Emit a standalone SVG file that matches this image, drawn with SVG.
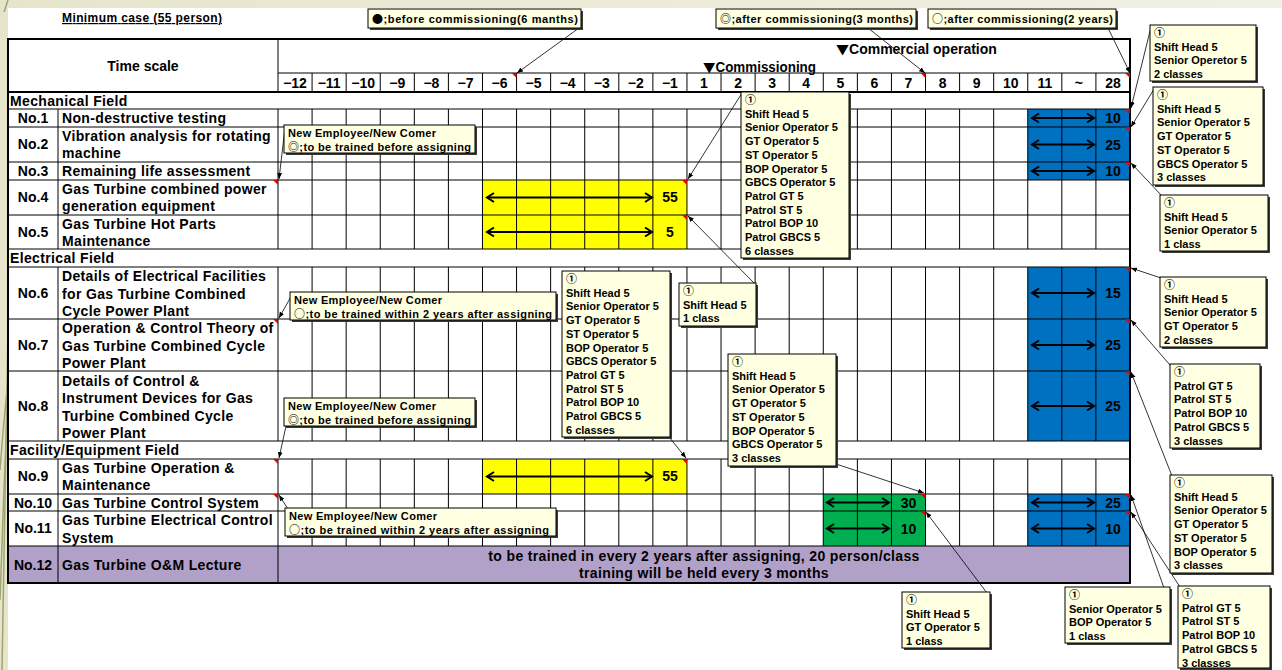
<svg xmlns="http://www.w3.org/2000/svg" xmlns:xlink="http://www.w3.org/1999/xlink" width="1282" height="670" viewBox="0 0 1282 670">
<style>
.t{font-family:"Liberation Sans","Noto Sans CJK JP",sans-serif;font-weight:bold;font-size:14px;fill:#000}
.ls{letter-spacing:0.35px}
.m{text-anchor:middle}
.c{font-size:11px}
.s{font-family:"Noto Sans CJK JP",sans-serif;font-weight:bold}
.g{stroke:#000;stroke-width:1;fill:none}
.cb{fill:#ffffe1;stroke:#000;stroke-width:1}
.sh{fill:#3a3a3a}
.ld{stroke:#000;stroke-width:0.8;fill:none;marker-end:url(#ah)}
.ar{stroke:#000;stroke-width:2;fill:none;marker-start:url(#ch);marker-end:url(#ch)}
.rd{fill:#e00000}
</style>
<defs>
<linearGradient id="bg" x1="0" y1="0" x2="1" y2="0"><stop offset="0" stop-color="#e6e5cc"/><stop offset="1" stop-color="#f1f1e4"/></linearGradient>
<marker id="ah" viewBox="0 0 10 10" refX="10" refY="5" markerWidth="6" markerHeight="6" orient="auto" markerUnits="userSpaceOnUse"><path d="M0,1 L10,5 L0,9 z" fill="#000"/></marker>
<marker id="ch" viewBox="-10 -6 12 12" refX="0" refY="0" markerWidth="12" markerHeight="12" orient="auto-start-reverse" markerUnits="userSpaceOnUse"><path d="M-7,-4.5 L0,0 L-7,4.5" fill="none" stroke="#000" stroke-width="2"/></marker>
<path id="vs" d="M0,73V92M0,109V249M0,267V441M0,459V546" class="g"/>
<path id="rm" d="M-5,0H0V5z" class="rd"/>
</defs>
<rect width="1282" height="670" fill="url(#bg)"/>
<rect x="8" y="8" width="1274" height="662" fill="#fff"/>
<g id="grass" fill="none" stroke="#7d8a4a" stroke-width="1.5" opacity="0.7">
<path d="M2,670 C4,560 6,440 8,330"/>
<path d="M0,600 C3,520 5,450 8,400"/>
<path d="M0,470 C3,430 6,400 8,380"/>
<path d="M4,12 L8,0"/>
</g>

<g id="title">
<text class="t" x="62" y="22" style="font-size:12px" text-decoration="underline" textLength="160" lengthAdjust="spacing">Minimum case (55 person)</text>
</g>

<g id="table">
<rect x="8" y="546" width="1122" height="37" fill="#b1a0c7"/>
<rect x="1027.76" y="109" width="102.24" height="71" fill="#0070c0"/>
<rect x="1027.76" y="267" width="102.24" height="174" fill="#0070c0"/>
<rect x="1027.76" y="494" width="102.24" height="52" fill="#0070c0"/>
<rect x="482.48" y="180" width="204.48" height="69" fill="#ffff00"/>
<rect x="482.48" y="459" width="204.48" height="35" fill="#ffff00"/>
<rect x="823.28" y="494" width="102.24" height="52" fill="#00b050"/>
<use xlink:href="#vs" x="312.08"/><use xlink:href="#vs" x="346.16"/><use xlink:href="#vs" x="380.24"/><use xlink:href="#vs" x="414.32"/><use xlink:href="#vs" x="448.4"/><use xlink:href="#vs" x="482.48"/><use xlink:href="#vs" x="516.56"/><use xlink:href="#vs" x="550.64"/><use xlink:href="#vs" x="584.72"/><use xlink:href="#vs" x="618.8"/><use xlink:href="#vs" x="652.88"/><use xlink:href="#vs" x="686.96"/><use xlink:href="#vs" x="721.04"/><use xlink:href="#vs" x="755.12"/><use xlink:href="#vs" x="789.2"/><use xlink:href="#vs" x="823.28"/><use xlink:href="#vs" x="857.36"/><use xlink:href="#vs" x="891.44"/><use xlink:href="#vs" x="925.52"/><use xlink:href="#vs" x="959.6"/><use xlink:href="#vs" x="993.68"/><use xlink:href="#vs" x="1027.76"/><use xlink:href="#vs" x="1061.84"/><use xlink:href="#vs" x="1095.92"/>
<path class="g" d="M278,39V92M278,109V249M278,267V441M278,459V583M58,109V249M58,267V441M58,459V583"/>
<path class="g" d="M278,73H1130M8,109H1130M8,127H1130M8,162H1130M8,180H1130M8,215H1130M8,249H1130M8,267H1130M8,319H1130M8,371H1130M8,441H1130M8,459H1130M8,494H1130M8,511H1130M8,546H1130"/>
<path d="M8,92H1130" stroke="#000" stroke-width="2"/>
<rect x="8" y="39" width="1122" height="544" fill="none" stroke="#000" stroke-width="2"/>

<text class="t m" x="143" y="71">Time scale</text>
<text class="t" x="836" y="54"><tspan class="s" style="font-size:13px">▼</tspan>Commercial operation</text>
<text class="t" x="703" y="72" textLength="113" lengthAdjust="spacingAndGlyphs"><tspan class="s" style="font-size:13px">▼</tspan>Commissioning</text>
<g class="t m">
<text x="295.04" y="88">−12</text><text x="329.12" y="88">−11</text><text x="363.2" y="88">−10</text><text x="397.28" y="88">−9</text><text x="431.36" y="88">−8</text><text x="465.44" y="88">−7</text><text x="499.52" y="88">−6</text><text x="533.6" y="88">−5</text><text x="567.68" y="88">−4</text><text x="601.76" y="88">−3</text><text x="635.84" y="88">−2</text><text x="669.92" y="88">−1</text><text x="704" y="88">1</text><text x="738.08" y="88">2</text><text x="772.16" y="88">3</text><text x="806.24" y="88">4</text><text x="840.32" y="88">5</text><text x="874.4" y="88">6</text><text x="908.48" y="88">7</text><text x="942.56" y="88">8</text><text x="976.64" y="88">9</text><text x="1010.72" y="88">10</text><text x="1044.8" y="88">11</text><text x="1078.88" y="88">~</text><text x="1112.96" y="88">28</text>
</g>

<g class="t ls">
<text x="10" y="106">Mechanical Field</text>
<text x="10" y="263">Electrical Field</text>
<text x="10" y="455">Facility/Equipment Field</text>
</g>

<g class="t m">
<text x="33" y="123">No.1</text><text x="33" y="149">No.2</text><text x="33" y="176">No.3</text><text x="33" y="202">No.4</text><text x="33" y="237">No.5</text><text x="33" y="298">No.6</text><text x="33" y="350">No.7</text><text x="33" y="411">No.8</text><text x="33" y="481">No.9</text><text x="33" y="508">No.10</text><text x="33" y="533">No.11</text><text x="33" y="570">No.12</text>
</g>
<g class="t ls">
<text x="62" y="123">Non-destructive testing</text>
<text x="62" y="141">Vibration analysis for rotating</text><text x="62" y="158">machine</text>
<text x="62" y="176">Remaining life assessment</text>
<text x="62" y="194">Gas Turbine combined power</text><text x="62" y="211">generation equipment</text>
<text x="62" y="229">Gas Turbine Hot Parts</text><text x="62" y="246">Maintenance</text>
<text x="62" y="281">Details of Electrical Facilities</text><text x="62" y="299">for Gas Turbine Combined</text><text x="62" y="316">Cycle Power Plant</text>
<text x="62" y="333">Operation &amp; Control Theory of</text><text x="62" y="351">Gas Turbine Combined Cycle</text><text x="62" y="368">Power Plant</text>
<text x="62" y="386">Details of Control &amp;</text><text x="62" y="403">Instrument Devices for Gas</text><text x="62" y="421">Turbine Combined Cycle</text><text x="62" y="438">Power Plant</text>
<text x="62" y="473">Gas Turbine Operation &amp;</text><text x="62" y="490">Maintenance</text>
<text x="62" y="508">Gas Turbine Control System</text>
<text x="62" y="525">Gas Turbine Electrical Control</text><text x="62" y="543">System</text>
<text x="62" y="570">Gas Turbine O&amp;M Lecture</text>
<text class="m" x="704" y="561">to be trained in every 2 years after assigning, 20 person/class</text>
<text class="m" x="704" y="578">training will be held every 3 months</text>
</g>

<g id="bars">
<path class="ar" d="M1032,118H1094"/><path class="ar" d="M1032,144.5H1094"/><path class="ar" d="M1032,171H1094"/><path class="ar" d="M1032,293H1094"/><path class="ar" d="M1032,345H1094"/><path class="ar" d="M1032,406H1094"/><path class="ar" d="M1032,502.5H1094"/><path class="ar" d="M1032,528.5H1094"/>
<path class="ar" d="M487,197.5H652"/><path class="ar" d="M487,232H652"/><path class="ar" d="M487,476.5H652"/>
<path class="ar" d="M827,502.5H889"/><path class="ar" d="M827,528.5H889"/>
<g class="t m">
<text x="1113" y="123">10</text><text x="1113" y="150">25</text><text x="1113" y="176">10</text><text x="1113" y="298">15</text><text x="1113" y="350">25</text><text x="1113" y="411">25</text><text x="1113" y="508">25</text><text x="1113" y="534">10</text>
<text x="670" y="202">55</text><text x="670" y="237">5</text><text x="670" y="481">55</text>
<text x="908.5" y="508">30</text><text x="908.5" y="534">10</text>
</g>
</g>

<g id="comment-marks">
<use xlink:href="#rm" x="516.56" y="73"/><use xlink:href="#rm" x="925.52" y="73"/><use xlink:href="#rm" x="1130" y="73"/>
<use xlink:href="#rm" x="278" y="180"/><use xlink:href="#rm" x="278" y="319"/><use xlink:href="#rm" x="278" y="459"/><use xlink:href="#rm" x="278" y="494"/>
<use xlink:href="#rm" x="686.96" y="180"/><use xlink:href="#rm" x="686.96" y="215"/><use xlink:href="#rm" x="686.96" y="459"/>
<use xlink:href="#rm" x="925.52" y="494"/><use xlink:href="#rm" x="925.52" y="511"/>
<use xlink:href="#rm" x="1130" y="109"/><use xlink:href="#rm" x="1130" y="127"/><use xlink:href="#rm" x="1130" y="162"/><use xlink:href="#rm" x="1130" y="267"/><use xlink:href="#rm" x="1130" y="319"/><use xlink:href="#rm" x="1130" y="371"/><use xlink:href="#rm" x="1130" y="494"/><use xlink:href="#rm" x="1130" y="511"/>
</g>
</g>

<g id="connectors">
<path class="ld" d="M579,28L517,73"/>
<path class="ld" d="M868,28L925,73"/>
<path class="ld" d="M1108,28L1130,73"/>
<path class="ld" d="M285,128L279,179"/>
<path class="ld" d="M293,293L279,318"/>
<path class="ld" d="M286,426L279,458"/>
<path class="ld" d="M288,509L279,495"/>
<path class="ld" d="M742,93L688,179"/>
<path class="ld" d="M755,284L688,216"/>
<path class="ld" d="M669,437L686,458"/>
<path class="ld" d="M836,464L924,493"/>
<path class="ld" d="M987,593L926,512"/>
<path class="ld" d="M1164,588L1131,495"/>
<path class="ld" d="M1180,587L1131,512"/>
<path class="ld" d="M1172,476L1131,372"/>
<path class="ld" d="M1170,365L1131,320"/>
<path class="ld" d="M1161,278L1131,268"/>
<path class="ld" d="M1162,196L1131,163"/>
<path class="ld" d="M1154,89L1131,127"/>
<path class="ld" d="M1151,27L1131,108"/>
</g>

<g id="n-before6"><rect class="sh" x="370" y="11" width="213" height="19"/><rect class="cb" x="368" y="9" width="213" height="19"/><text class="t c" x="372" y="23" textLength="206" lengthAdjust="spacing"><tspan class="s">●</tspan>;before commissioning(6 manths)</text></g>
<g id="n-after3"><rect class="sh" x="718" y="11" width="200" height="19"/><rect class="cb" x="716" y="9" width="200" height="19"/><text class="t c" x="720" y="23" textLength="193" lengthAdjust="spacing"><tspan class="s">◎</tspan>;after commissioning(3 months)</text></g>
<g id="n-after2y"><rect class="sh" x="930" y="11" width="188" height="19"/><rect class="cb" x="928" y="9" width="188" height="19"/><text class="t c" x="932" y="23" textLength="181" lengthAdjust="spacing"><tspan class="s">○</tspan>;after commissioning(2 years)</text></g>

<g id="n-new1"><rect class="sh" x="286" y="127" width="191" height="28"/><rect class="cb" x="284" y="125" width="191" height="28"/><text class="t c" x="288" y="137" textLength="148" lengthAdjust="spacing">New Employee/New Comer</text><text class="t c" x="288" y="150.7" textLength="183" lengthAdjust="spacing"><tspan class="s">◎</tspan>;to be trained before assigning</text></g>
<g id="n-new2"><rect class="sh" x="292" y="294" width="266" height="28"/><rect class="cb" x="290" y="292" width="266" height="28"/><text class="t c" x="294" y="304" textLength="148" lengthAdjust="spacing">New Employee/New Comer</text><text class="t c" x="294" y="317.7" textLength="258" lengthAdjust="spacing"><tspan class="s">○</tspan>;to be trained within 2 years after assigning</text></g>
<g id="n-new3"><rect class="sh" x="286" y="400" width="191" height="28"/><rect class="cb" x="284" y="398" width="191" height="28"/><text class="t c" x="288" y="410" textLength="148" lengthAdjust="spacing">New Employee/New Comer</text><text class="t c" x="288" y="423.7" textLength="183" lengthAdjust="spacing"><tspan class="s">◎</tspan>;to be trained before assigning</text></g>
<g id="n-new4"><rect class="sh" x="287" y="510" width="271" height="28"/><rect class="cb" x="285" y="508" width="271" height="28"/><text class="t c" x="289" y="520" textLength="148" lengthAdjust="spacing">New Employee/New Comer</text><text class="t c" x="289" y="533.7" textLength="260" lengthAdjust="spacing"><tspan class="s">○</tspan>;to be trained within 2 years after assigning</text></g>

<g id="n-k"><rect class="sh" x="743" y="94" width="108" height="166"/><rect class="cb" x="741" y="92" width="108" height="166"/><text class="t c" x="745" y="104"><tspan x="745">①</tspan><tspan x="745" dy="13.7">Shift Head 5</tspan><tspan x="745" dy="13.7">Senior Operator 5</tspan><tspan x="745" dy="13.7">GT Operator 5</tspan><tspan x="745" dy="13.7">ST Operator 5</tspan><tspan x="745" dy="13.7">BOP Operator 5</tspan><tspan x="745" dy="13.7">GBCS Operator 5</tspan><tspan x="745" dy="13.7">Patrol GT 5</tspan><tspan x="745" dy="13.7">Patrol ST 5</tspan><tspan x="745" dy="13.7">Patrol BOP 10</tspan><tspan x="745" dy="13.7">Patrol GBCS 5</tspan><tspan x="745" dy="13.7">6 classes</tspan></text></g>
<g id="n-m"><rect class="sh" x="564" y="273" width="108" height="166"/><rect class="cb" x="562" y="271" width="108" height="166"/><text class="t c" x="566" y="283"><tspan x="566">①</tspan><tspan x="566" dy="13.7">Shift Head 5</tspan><tspan x="566" dy="13.7">Senior Operator 5</tspan><tspan x="566" dy="13.7">GT Operator 5</tspan><tspan x="566" dy="13.7">ST Operator 5</tspan><tspan x="566" dy="13.7">BOP Operator 5</tspan><tspan x="566" dy="13.7">GBCS Operator 5</tspan><tspan x="566" dy="13.7">Patrol GT 5</tspan><tspan x="566" dy="13.7">Patrol ST 5</tspan><tspan x="566" dy="13.7">Patrol BOP 10</tspan><tspan x="566" dy="13.7">Patrol GBCS 5</tspan><tspan x="566" dy="13.7">6 classes</tspan></text></g>
<g id="n-l"><rect class="sh" x="681" y="285" width="77" height="43"/><rect class="cb" x="679" y="283" width="77" height="43"/><text class="t c" x="683" y="295"><tspan x="683">①</tspan><tspan x="683" dy="13.7">Shift Head 5</tspan><tspan x="683" dy="13.7">1 class</tspan></text></g>
<g id="n-j"><rect class="sh" x="730" y="356" width="108" height="112"/><rect class="cb" x="728" y="354" width="108" height="112"/><text class="t c" x="732" y="366"><tspan x="732">①</tspan><tspan x="732" dy="13.7">Shift Head 5</tspan><tspan x="732" dy="13.7">Senior Operator 5</tspan><tspan x="732" dy="13.7">GT Operator 5</tspan><tspan x="732" dy="13.7">ST Operator 5</tspan><tspan x="732" dy="13.7">BOP Operator 5</tspan><tspan x="732" dy="13.7">GBCS Operator 5</tspan><tspan x="732" dy="13.7">3 classes</tspan></text></g>

<g id="n-a"><rect class="sh" x="1152" y="27" width="106" height="56"/><rect class="cb" x="1150" y="25" width="106" height="56"/><text class="t c" x="1154" y="37"><tspan x="1154">①</tspan><tspan x="1154" dy="13.7">Shift Head 5</tspan><tspan x="1154" dy="13.7">Senior Operetor 5</tspan><tspan x="1154" dy="13.7">2 classes</tspan></text></g>
<g id="n-b"><rect class="sh" x="1155" y="89" width="110" height="98"/><rect class="cb" x="1153" y="87" width="110" height="98"/><text class="t c" x="1157" y="99"><tspan x="1157">①</tspan><tspan x="1157" dy="13.7">Shift Head 5</tspan><tspan x="1157" dy="13.7">Senior Operator 5</tspan><tspan x="1157" dy="13.7">GT Operator 5</tspan><tspan x="1157" dy="13.7">ST Operator 5</tspan><tspan x="1157" dy="13.7">GBCS Operator 5</tspan><tspan x="1157" dy="13.7">3 classes</tspan></text></g>
<g id="n-c"><rect class="sh" x="1162" y="197" width="108" height="56"/><rect class="cb" x="1160" y="195" width="108" height="56"/><text class="t c" x="1164" y="207"><tspan x="1164">①</tspan><tspan x="1164" dy="13.7">Shift Head 5</tspan><tspan x="1164" dy="13.7">Senior Operator 5</tspan><tspan x="1164" dy="13.7">1 class</tspan></text></g>
<g id="n-d"><rect class="sh" x="1162" y="279" width="106" height="70"/><rect class="cb" x="1160" y="277" width="106" height="70"/><text class="t c" x="1164" y="289"><tspan x="1164">①</tspan><tspan x="1164" dy="13.7">Shift Head 5</tspan><tspan x="1164" dy="13.7">Senior Operator 5</tspan><tspan x="1164" dy="13.7">GT Operator 5</tspan><tspan x="1164" dy="13.7">2 classes</tspan></text></g>
<g id="n-e"><rect class="sh" x="1172" y="366" width="90" height="84"/><rect class="cb" x="1170" y="364" width="90" height="84"/><text class="t c" x="1174" y="376"><tspan x="1174">①</tspan><tspan x="1174" dy="13.7">Patrol GT 5</tspan><tspan x="1174" dy="13.7">Patrol ST 5</tspan><tspan x="1174" dy="13.7">Patrol BOP 10</tspan><tspan x="1174" dy="13.7">Patrol GBCS 5</tspan><tspan x="1174" dy="13.7">3 classes</tspan></text></g>
<g id="n-f"><rect class="sh" x="1172" y="477" width="102" height="98"/><rect class="cb" x="1170" y="475" width="102" height="98"/><text class="t c" x="1174" y="487"><tspan x="1174">①</tspan><tspan x="1174" dy="13.7">Shift Head 5</tspan><tspan x="1174" dy="13.7">Senior Operator 5</tspan><tspan x="1174" dy="13.7">GT Operator 5</tspan><tspan x="1174" dy="13.7">ST Operator 5</tspan><tspan x="1174" dy="13.7">BOP Operator 5</tspan><tspan x="1174" dy="13.7">3 classes</tspan></text></g>
<g id="n-g"><rect class="sh" x="1180" y="588" width="92" height="82"/><rect class="cb" x="1178" y="586" width="92" height="82"/><text class="t c" x="1182" y="598"><tspan x="1182">①</tspan><tspan x="1182" dy="13.7">Patrol GT 5</tspan><tspan x="1182" dy="13.7">Patrol ST 5</tspan><tspan x="1182" dy="13.7">Patrol BOP 10</tspan><tspan x="1182" dy="13.7">Patrol GBCS 5</tspan><tspan x="1182" dy="13.7">3 classes</tspan></text></g>
<g id="n-h"><rect class="sh" x="1067" y="589" width="105" height="56"/><rect class="cb" x="1065" y="587" width="105" height="56"/><text class="t c" x="1069" y="599"><tspan x="1069">①</tspan><tspan x="1069" dy="13.7">Senior Operator 5</tspan><tspan x="1069" dy="13.7">BOP Operator 5</tspan><tspan x="1069" dy="13.7">1 class</tspan></text></g>
<g id="n-i"><rect class="sh" x="904" y="594" width="88" height="56"/><rect class="cb" x="902" y="592" width="88" height="56"/><text class="t c" x="906" y="604"><tspan x="906">①</tspan><tspan x="906" dy="13.7">Shift Head 5</tspan><tspan x="906" dy="13.7">GT Operator 5</tspan><tspan x="906" dy="13.7">1 class</tspan></text></g>
</svg>
